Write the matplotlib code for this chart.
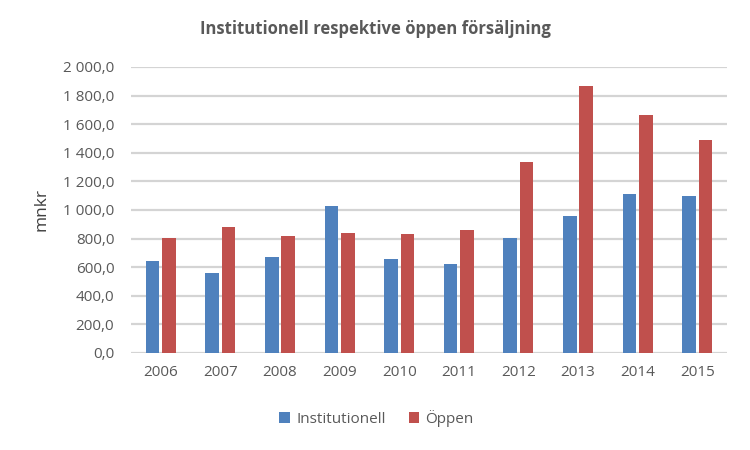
import matplotlib.pyplot as plt
import numpy as np

years = ["2006", "2007", "2008", "2009", "2010", "2011", "2012", "2013", "2014", "2015"]
institutionell = [644, 560, 672, 1028, 658, 623, 805, 958, 1112, 1098]
oppen = [805, 881, 819, 840, 833, 860, 1335, 1865, 1663, 1488]

plt.rcParams['font.family'] = ['Open Sans', 'DejaVu Sans']
text_color = '#595959'

fig = plt.figure(figsize=(7.5, 4.5), dpi=100)
ax = fig.add_axes([0.1747, 0.2156, 0.7946, 0.6356])

x = np.arange(len(years))
w = 0.227
ax.bar(x - 0.138, institutionell, w, color='#4F81BD', label='Institutionell', zorder=3)
ax.bar(x + 0.138, oppen, w, color='#C0504D', label='Öppen', zorder=3)

ax.set_xlim(-0.5, len(years) - 0.5)
ax.set_ylim(0, 2000)
ax.set_yticks(np.arange(0, 2001, 200))


def fmt(v):
    # swedish style: space as thousands separator, comma decimal
    s = f"{v:,.1f}".replace(",", " ").replace(".", ",")
    return s


ax.set_yticklabels([fmt(v) for v in np.arange(0, 2001, 200)])
ax.set_xticks(x)
ax.set_xticklabels(years)
ax.tick_params(axis='both', length=0, labelsize=11, colors=text_color)
ax.tick_params(axis='y', pad=12)
ax.tick_params(axis='x', pad=9)

ax.grid(axis='y', color='#D4D4D4', linewidth=1.6, zorder=0)
for s in ax.spines.values():
    s.set_visible(False)

ax.set_ylabel("mnkr", fontsize=12.5, color='#404040', labelpad=10)
fig.text(0.5, 0.925, "Institutionell respektive öppen försäljning", ha='center',
         fontsize=12, fontweight='bold', color=text_color)

fig.legend(loc='center', bbox_to_anchor=(0.502, 0.07), ncol=2, frameon=False,
           fontsize=11, handlelength=0.7, handleheight=0.7, columnspacing=1.5,
           handletextpad=0.4, labelcolor=text_color)

fig.savefig("out.png", dpi=100)
